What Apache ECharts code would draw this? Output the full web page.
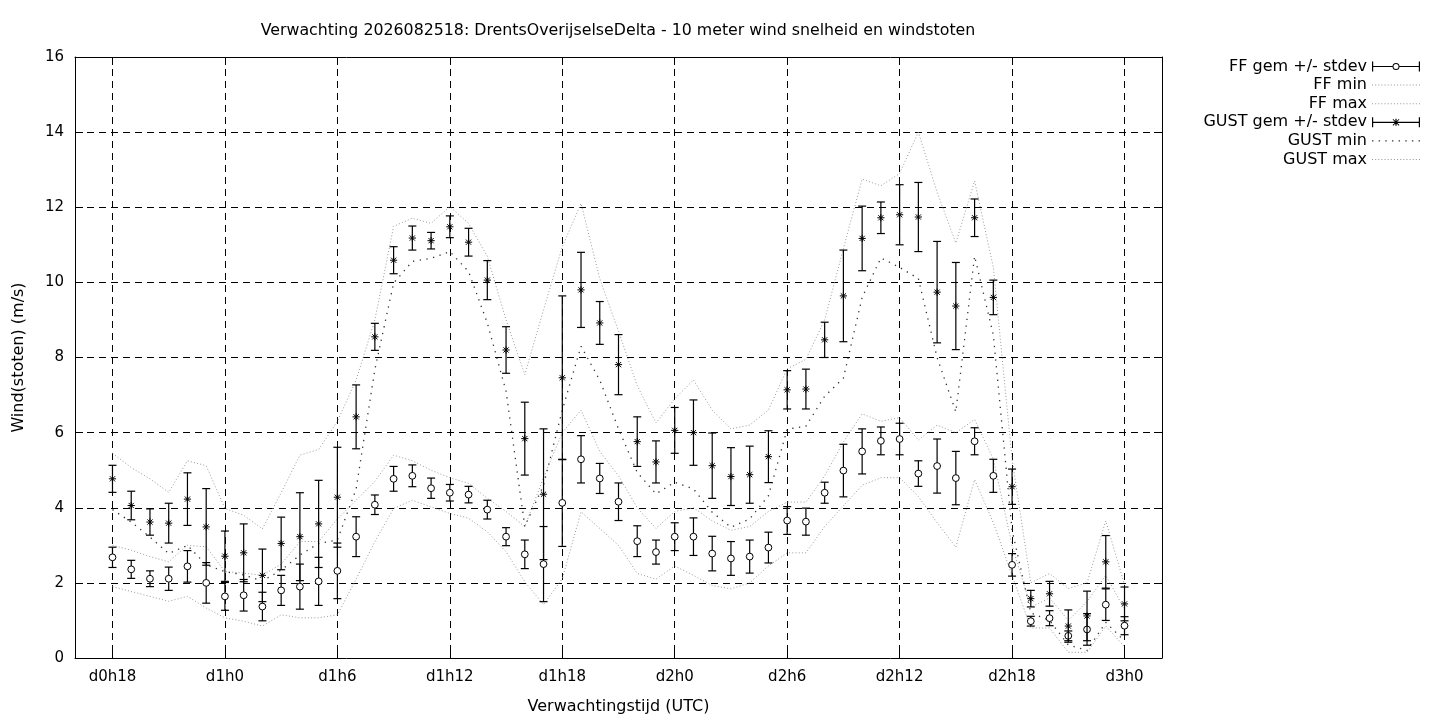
<!DOCTYPE html>
<html>
<head>
<meta charset="utf-8">
<title>Verwachting 2026082518</title>
<script src="https://cdn.jsdelivr.net/npm/echarts@6/dist/echarts.min.js"></script>
<style>
  html, body { margin: 0; padding: 0; background: #fff; }
  #chart { width: 1440px; height: 720px; }
</style>
</head>
<body>
<div id="chart"></div>
<script>
// forecast hours since d0h0
const hours = [18, 19, 20, 21, 22, 23, 24, 25, 26, 27, 28, 29, 30, 31, 32, 33, 34, 35, 36, 37,
  38, 39, 40, 41, 42, 43, 44, 45, 46, 47, 48, 49, 50, 51, 52, 53, 54, 55, 56, 57,
  58, 59, 60, 61, 62, 63, 64, 65, 66, 67, 68, 69, 70, 71, 72];

const xTickHours = [18, 24, 30, 36, 42, 48, 54, 60, 66, 72];
const xTickLabels = ['d0h18', 'd1h0', 'd1h6', 'd1h12', 'd1h18', 'd2h0', 'd2h6', 'd2h12', 'd2h18', 'd3h0'];

// FF = wind speed (m/s)
const ffMean = [2.68, 2.36, 2.11, 2.11, 2.44, 2.00, 1.64, 1.67, 1.37, 1.80,
  1.90, 2.04, 2.32, 3.23, 4.08, 4.77, 4.85, 4.52, 4.40, 4.35,
  3.95, 3.23, 2.76, 2.50, 4.13, 5.29, 4.78, 4.16, 3.11, 2.82,
  3.23, 3.23, 2.78, 2.65, 2.70, 2.94, 3.66, 3.63, 4.40, 4.99,
  5.50, 5.78, 5.83, 4.91, 5.11, 4.79, 5.77, 4.85, 2.48, 0.98,
  1.06, 0.59, 0.76, 1.42, 0.86];
const ffSd = [0.27, 0.24, 0.21, 0.31, 0.42, 0.54, 0.37, 0.42, 0.38, 0.40,
  0.60, 0.64, 0.74, 0.53, 0.26, 0.33, 0.29, 0.27, 0.22, 0.22,
  0.25, 0.24, 0.38, 1.00, 1.16, 0.63, 0.40, 0.50, 0.41, 0.32,
  0.37, 0.50, 0.46, 0.45, 0.44, 0.41, 0.37, 0.36, 0.28, 0.70,
  0.60, 0.37, 0.42, 0.34, 0.72, 0.71, 0.36, 0.44, 0.30, 0.13,
  0.20, 0.13, 0.42, 0.42, 0.24];
const ffMin = [1.90, 1.77, 1.64, 1.51, 1.64, 1.33, 1.07, 0.98, 0.85, 1.15,
  1.07, 1.07, 1.15, 2.10, 3.10, 3.98, 4.20, 4.02, 3.85, 3.72,
  3.36, 2.83, 2.03, 1.42, 2.11, 3.89, 3.45, 3.00, 2.25, 2.10,
  2.45, 2.20, 1.93, 1.84, 2.00, 2.45, 2.80, 2.80, 3.50, 4.05,
  4.60, 4.80, 4.80, 4.30, 3.60, 2.95, 4.75, 3.60, 2.20, 0.80,
  0.80, 0.15, 0.15, 0.85, 0.30];
const ffMax = [3.00, 2.87, 2.70, 2.56, 3.00, 2.96, 2.30, 2.26, 2.20, 2.50,
  3.10, 3.10, 3.70, 4.20, 4.70, 5.40, 5.25, 5.00, 4.80, 4.65,
  4.25, 3.90, 3.50, 4.80, 6.00, 6.60, 5.50, 4.85, 4.00, 3.45,
  3.90, 4.00, 3.65, 3.40, 3.50, 3.90, 4.15, 4.15, 4.85, 5.75,
  6.50, 6.30, 6.40, 5.80, 6.20, 6.00, 6.35, 5.30, 3.00, 1.35,
  1.60, 1.00, 1.50, 2.20, 1.30];

// GUST = wind gusts (m/s)
const gustMean = [4.77, 4.06, 3.62, 3.59, 4.23, 3.49, 2.71, 2.80, 2.20, 3.05,
  3.23, 3.57, 4.28, 6.42, 8.55, 10.59, 11.18, 11.11, 11.48, 11.07,
  10.06, 8.20, 5.84, 4.36, 7.46, 9.80, 8.92, 7.81, 5.76, 5.22,
  6.06, 6.00, 5.12, 4.83, 4.88, 5.36, 7.14, 7.16, 8.47, 9.64,
  11.17, 11.72, 11.80, 11.74, 9.74, 9.37, 11.72, 9.60, 4.56, 1.58,
  1.71, 0.85, 1.12, 2.56, 1.44];
const gustSd = [0.36, 0.38, 0.35, 0.53, 0.70, 1.02, 0.67, 0.77, 0.70, 0.70,
  1.17, 1.16, 1.33, 0.85, 0.36, 0.36, 0.32, 0.22, 0.29, 0.37,
  0.52, 0.62, 0.97, 1.74, 2.18, 1.00, 0.57, 0.80, 0.66, 0.56,
  0.61, 0.87, 0.87, 0.77, 0.76, 0.69, 0.51, 0.53, 0.47, 1.22,
  0.86, 0.42, 0.80, 0.92, 1.35, 1.16, 0.50, 0.46, 0.47, 0.22,
  0.33, 0.43, 0.66, 0.70, 0.45];
const gustMin = [3.95, 3.62, 3.22, 2.78, 3.00, 2.48, 2.30, 2.21, 2.05, 2.34,
  2.74, 3.05, 3.14, 4.50, 7.68, 9.98, 10.56, 10.64, 10.82, 10.29,
  8.92, 7.10, 3.50, 4.60, 6.60, 8.30, 7.40, 6.10, 4.94, 4.37,
  4.68, 4.50, 3.88, 3.48, 3.70, 4.32, 6.09, 6.17, 6.97, 7.45,
  9.60, 10.65, 10.40, 10.10, 8.00, 6.55, 10.70, 8.60, 3.40, 1.20,
  1.00, 0.35, 0.20, 0.95, 0.45];
const gustMax = [5.45, 5.07, 4.77, 4.41, 5.25, 5.12, 3.98, 3.80, 3.44, 4.40,
  5.40, 5.55, 6.30, 7.40, 9.00, 11.49, 11.71, 11.57, 12.02, 11.57,
  10.69, 9.00, 7.54, 9.27, 10.95, 12.10, 10.10, 8.70, 7.25, 6.26,
  6.90, 7.40, 6.60, 6.10, 6.20, 6.60, 7.70, 7.95, 9.00, 10.90,
  12.75, 12.57, 12.90, 14.00, 12.40, 11.05, 12.70, 10.40, 5.30, 2.00,
  2.25, 1.85, 2.00, 3.65, 1.95];

const FONT = 'DejaVu Sans';
const names = ['FF gem +/- stdev', 'FF min', 'FF max', 'GUST gem +/- stdev', 'GUST min', 'GUST max'];

const FINE = '#9a9a9a';
const COARSE = '#333';
const fineDots = { color: FINE, width: 1, type: [1, 2.2] };
const coarseDots = { color: COARSE, width: 1.3, type: [1.3, 5.5] };

// legend samples, drawn in a 48x10 box
const ffIcon = 'path://M0,0h1.2v10h-1.2z M1.2,4.4h19.3v1.2h-19.3z M27.5,4.4h19.3v1.2h-19.3z M46.8,0h1.2v10h-1.2z ' +
  'M27.5,5a3.5,3.5 0 1,0 -7,0a3.5,3.5 0 1,0 7,0z M26.5,5a2.5,2.5 0 1,1 -5,0a2.5,2.5 0 1,1 5,0z';
const gustIcon = 'path://M0,0h1.2v10h-1.2z M1.2,4.4h45.6v1.2h-45.6z M46.8,0h1.2v10h-1.2z M23.4,1.5h1.2v7h-1.2z ' +
  'M20.6,2.2L21.2,1.6L27.4,7.8L26.8,8.4z M26.8,1.6L27.4,2.2L21.2,8.4L20.6,7.8z';
function dotIcon(step, size) {
  let p = 'path://';
  for (let x = 0; x + size <= 48.01; x += step) {
    p += 'M' + x.toFixed(2) + ',' + (5 - size / 2) + 'h' + size + 'v' + size + 'h-' + size + 'z ';
  }
  return p;
}
const fineIcon = dotIcon(3, 1);
const coarseIcon = dotIcon(6.6, 1.4);
const legendIcons = [ffIcon, fineIcon, fineIcon, gustIcon, coarseIcon, fineIcon];
const legendColors = ['#000', FINE, FINE, '#000', COARSE, FINE];

function pairs(vals) {
  return hours.map((h, i) => [h, vals[i]]);
}
function bars(mean, sd) {
  return hours.map((h, i) => [h, mean[i], sd[i]]);
}

function errorBar(marker) {
  return function (params, api) {
    const x = api.value(0), m = api.value(1), s = api.value(2);
    const top = api.coord([x, m + s]);
    const bot = api.coord([x, m - s]);
    const c = api.coord([x, m]);
    const cap = 4;
    const ls = { stroke: '#000', lineWidth: 1.2 };
    const kids = [
      { type: 'line', shape: { x1: top[0], y1: top[1], x2: bot[0], y2: bot[1] }, style: ls },
      { type: 'line', shape: { x1: top[0] - cap, y1: top[1], x2: top[0] + cap, y2: top[1] }, style: ls },
      { type: 'line', shape: { x1: bot[0] - cap, y1: bot[1], x2: bot[0] + cap, y2: bot[1] }, style: ls }
    ];
    if (marker === 'circle') {
      kids.push({ type: 'circle', shape: { cx: c[0], cy: c[1], r: 3.4 },
        style: { fill: '#fff', stroke: '#000', lineWidth: 1 } });
    } else {
      const r = 3.6, d = 2.6;
      const st = { stroke: '#000', lineWidth: 1 };
      kids.push(
        { type: 'line', shape: { x1: c[0] - r, y1: c[1], x2: c[0] + r, y2: c[1] }, style: st },
        { type: 'line', shape: { x1: c[0], y1: c[1] - r, x2: c[0], y2: c[1] + r }, style: st },
        { type: 'line', shape: { x1: c[0] - d, y1: c[1] - d, x2: c[0] + d, y2: c[1] + d }, style: st },
        { type: 'line', shape: { x1: c[0] - d, y1: c[1] + d, x2: c[0] + d, y2: c[1] - d }, style: st }
      );
    }
    return { type: 'group', children: kids };
  };
}

const chart = echarts.init(document.getElementById('chart'));

const xBase = {
  type: 'value', min: 16, max: 74,
  axisLine: { show: true, onZero: false, lineStyle: { color: '#000', width: 1 } },
  axisTick: { show: true, inside: true, length: 8, customValues: xTickHours, lineStyle: { color: '#000' } },
  splitLine: { show: false }
};
const yBase = {
  type: 'value', min: 0, max: 16, interval: 2,
  axisLine: { show: true, lineStyle: { color: '#000', width: 1 } },
  axisTick: { show: true, inside: true, length: 8, lineStyle: { color: '#000' } },
  splitLine: { show: false }
};

const option = {
  backgroundColor: '#fff',
  animation: false,
  title: {
    text: 'Verwachting 2026082518: DrentsOverijselseDelta - 10 meter wind snelheid en windstoten',
    left: 613, top: 18, textAlign: 'center',
    textStyle: { fontFamily: FONT, fontSize: 15.8, fontWeight: 'normal', color: '#000' }
  },
  legend: names.map((n, i) => ({
    data: [{ name: n, icon: legendIcons[i], itemStyle: { color: legendColors[i], borderWidth: 0 } }],
    orient: 'vertical', align: 'right', right: 20, top: 58.5 + i * 18.6,
    padding: 0, itemWidth: 48, itemHeight: 10, selectedMode: false,
    textStyle: { fontFamily: FONT, fontSize: 16, color: '#000' }
  })),
  grid: { left: 75, right: 278, top: 57, bottom: 61, containLabel: false },
  xAxis: [
    Object.assign({}, xBase, {
      position: 'bottom',
      name: 'Verwachtingstijd (UTC)', nameLocation: 'middle', nameGap: 41,
      nameTextStyle: { fontFamily: FONT, fontSize: 16, color: '#000' },
      axisLabel: {
        customValues: xTickHours, margin: 12,
        fontFamily: FONT, fontSize: 15, color: '#000',
        formatter: v => xTickLabels[xTickHours.indexOf(v)]
      },
      splitLine: { show: true, lineStyle: { color: '#000', width: 1, type: [7, 5] } }
    }),
    Object.assign({}, xBase, { position: 'top', axisLabel: { show: false } })
  ],
  yAxis: [
    Object.assign({}, yBase, {
      position: 'left',
      name: 'Wind(stoten) (m/s)', nameLocation: 'middle', nameGap: 48, nameRotate: 90,
      nameTextStyle: { fontFamily: FONT, fontSize: 16, color: '#000' },
      axisLabel: { margin: 11, fontFamily: FONT, fontSize: 15, color: '#000' },
      splitLine: { show: true, lineStyle: { color: '#000', width: 1, type: [7, 5] } }
    }),
    Object.assign({}, yBase, { position: 'right', axisLabel: { show: false } })
  ],
  series: [
    {
      name: names[0], type: 'custom', data: bars(ffMean, ffSd),
      encode: { x: 0, y: 1 }, renderItem: errorBar('circle'),
      itemStyle: { color: '#000' }, clip: true, z: 5
    },
    {
      name: names[1], type: 'line', data: pairs(ffMin), symbol: 'none', showSymbol: false,
      lineStyle: fineDots, itemStyle: { color: FINE }, z: 2
    },
    {
      name: names[2], type: 'line', data: pairs(ffMax), symbol: 'none', showSymbol: false,
      lineStyle: fineDots, itemStyle: { color: FINE }, z: 2
    },
    {
      name: names[3], type: 'custom', data: bars(gustMean, gustSd),
      encode: { x: 0, y: 1 }, renderItem: errorBar('star'),
      itemStyle: { color: '#000' }, clip: true, z: 5
    },
    {
      name: names[4], type: 'line', data: pairs(gustMin), symbol: 'none', showSymbol: false,
      lineStyle: coarseDots, itemStyle: { color: COARSE }, z: 2
    },
    {
      name: names[5], type: 'line', data: pairs(gustMax), symbol: 'none', showSymbol: false,
      lineStyle: fineDots, itemStyle: { color: FINE }, z: 2
    }
  ]
};

chart.setOption(option);
</script>
</body>
</html>
